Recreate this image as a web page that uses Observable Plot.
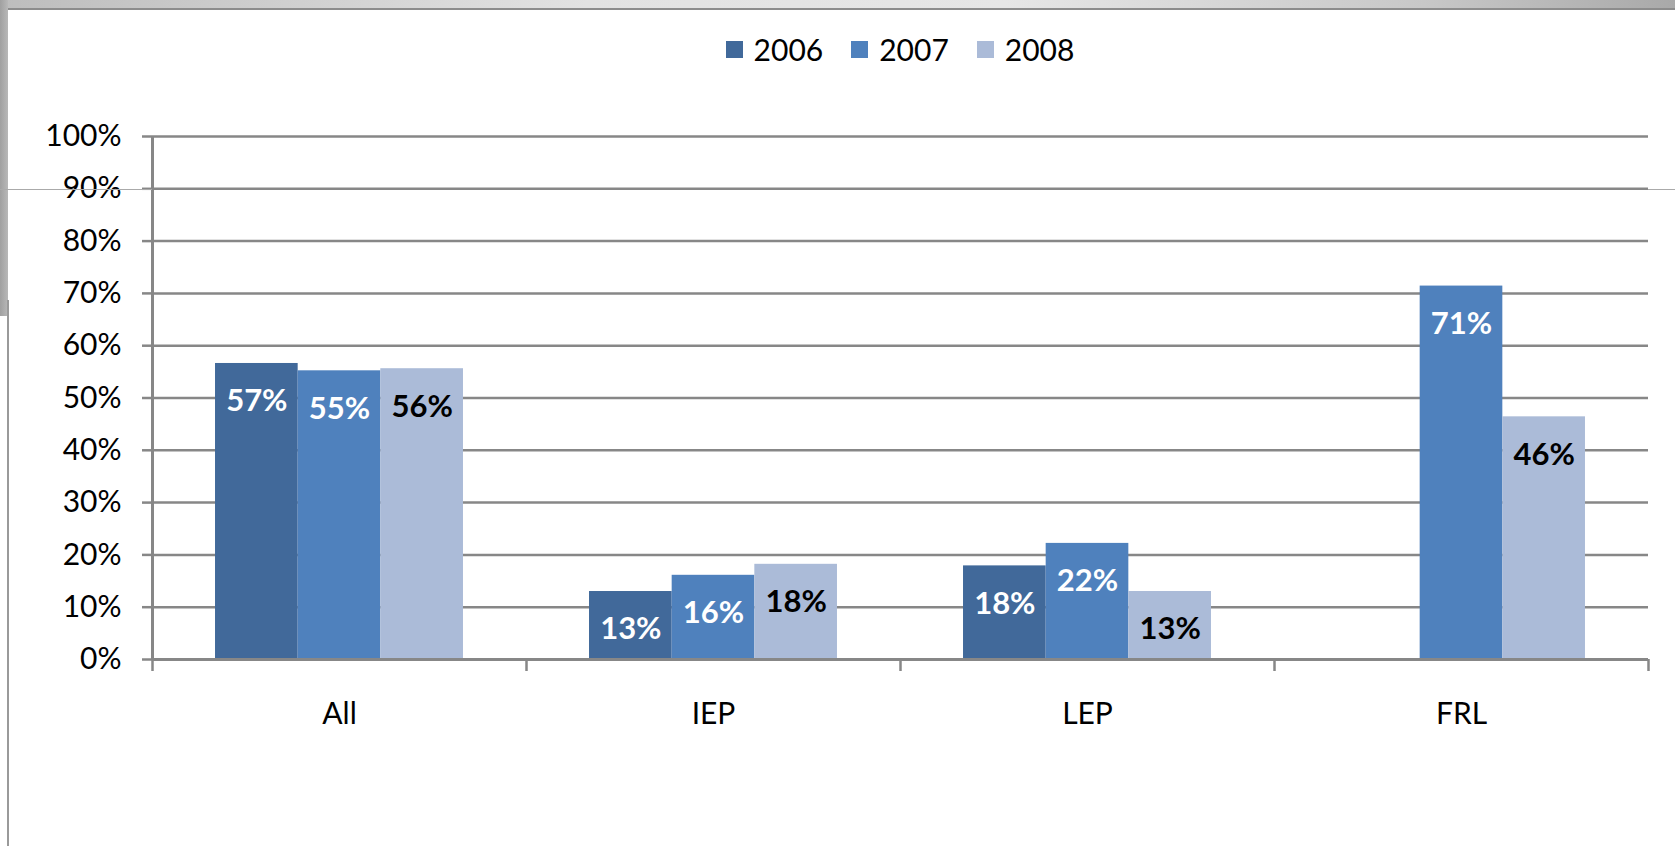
<!DOCTYPE html>
<html>
<head>
<meta charset="utf-8">
<script src="https://cdn.jsdelivr.net/npm/d3@7"></script>
<script src="https://cdn.jsdelivr.net/npm/@observablehq/plot@0.6"></script>
<style>
  html, body { margin: 0; padding: 0; background: #fff; }
  #wrap { position: relative; width: 1675px; height: 846px; overflow: hidden; font-family: Lato, "Open Sans", sans-serif; }
  #chart { position: absolute; left: 0; top: 0; }
  #legend { position: absolute; left: 152px; width: 1496px; top: 30px; height: 38px; display: flex; justify-content: center; align-items: center; font-size: 30px; color: #000; }
  .item { display: flex; align-items: center; margin: 0 14px; }
  .sw { width: 17px; height: 17px; margin-right: 11px; }
  .topbar { position: absolute; left: 0; top: 0; width: 1675px; height: 8px;
    background: linear-gradient(to right, #bdbdbd 0%, #e2e2e2 35%, #e6e6e6 60%, #c8c8c8 85%, #a9a9a9 100%);
    border-bottom: 2px solid #8c8c8c; }
  .leftbar { position: absolute; left: 0; top: 0; width: 8px; height: 316px; background: linear-gradient(to right, #a0a0a0, #b8b8b8); }
  .leftline { position: absolute; left: 7px; top: 300px; width: 2px; height: 546px; background: #9a9a9a; }
  .hline { position: absolute; height: 1px; background: #aaaaaa; }
</style>
</head>
<body>
<div id="wrap">
  <div id="chart"></div>
  <div id="legend"></div>
  <div class="topbar"></div>
  <div class="leftbar"></div>
  <div class="leftline"></div>
  <div class="hline" style="left:0; width:152px; top:189px;"></div>
  <div class="hline" style="left:1648px; width:27px; top:189px;"></div>
</div>
<script>
// ---- data ----
const categories = ["All", "IEP", "LEP", "FRL"];
const years = ["2006", "2007", "2008"];
const values2006 = [56.6, 13.0, 17.9, null];
const values2007 = [55.2, 16.1, 22.2, 71.4];
const values2008 = [55.6, 18.2, 13.0, 46.4];
const yTicks = [0, 10, 20, 30, 40, 50, 60, 70, 80, 90, 100];
const yearColors = ["#41699a", "#4f81bd", "#abbbd8"];
const labelColors = ["#ffffff", "#ffffff", "#000000"];

// ---- build table ----
const series = [values2006, values2007, values2008];
const rows = [];
series.forEach((vals, yi) => {
  vals.forEach((v, ci) => {
    if (v != null) rows.push({cat: categories[ci], ci, year: years[yi], yi, value: v});
  });
});

const W = 0.221; // bar width as fraction of a category band
const left = d => d.ci + 0.5 + (d.yi - 1.5) * W;
const right = d => left(d) + W;
const mid = d => left(d) + W / 2;
const gray = "#878787";
const FONT = 30;
const LABEL_FONT = 31;

const plot = Plot.plot({
  width: 1675,
  height: 846,
  marginLeft: 152,
  marginRight: 27,
  marginTop: 136,
  marginBottom: 187,
  style: {fontFamily: "Lato, 'Open Sans', sans-serif", fontSize: FONT + "px", background: "transparent", color: "#000"},
  x: {type: "linear", domain: [0, categories.length]},
  y: {domain: [0, 100]},
  color: {domain: years, range: yearColors},
  marks: [
    Plot.gridY(yTicks, {stroke: gray, strokeOpacity: 1, strokeWidth: 2.5}),
    Plot.rectY(rows, {x1: left, x2: right, y1: 0, y2: "value", fill: "year"}),
    Plot.text(rows.filter(d => d.yi < 2), {x: mid, y: "value", text: d => Math.round(d.value) + "%", dy: 38, fill: labelColors[0], fontWeight: "bold", fontSize: LABEL_FONT}),
    Plot.text(rows.filter(d => d.yi === 2), {x: mid, y: "value", text: d => Math.round(d.value) + "%", dy: 38, fill: labelColors[2], fontWeight: "bold", fontSize: LABEL_FONT}),
    Plot.ruleY([0], {stroke: gray, strokeWidth: 3}),
    Plot.ruleX([0], {stroke: gray, strokeWidth: 3}),
    Plot.axisX(d3.range(categories.length + 1), {tickSize: 12, tickFormat: () => "", stroke: gray, strokeWidth: 2.5, label: null}),
    Plot.axisX(categories.map((c, i) => i + 0.5), {tickSize: 0, tickPadding: 43, tickFormat: d => categories[Math.floor(d)], fill: "#000", fontSize: FONT, label: null}),
    Plot.axisY(yTicks, {tickSize: 10, tickPadding: 21, tickFormat: d => d + "%", stroke: gray, strokeWidth: 2.5, fill: "#000", fontSize: FONT, label: null})
  ]
});
document.getElementById("chart").appendChild(plot);

// ---- legend ----
const legend = document.getElementById("legend");
years.forEach((y, i) => {
  const item = document.createElement("div");
  item.className = "item";
  const sw = document.createElement("div");
  sw.className = "sw";
  sw.style.background = yearColors[i];
  const t = document.createElement("span");
  t.textContent = y;
  item.appendChild(sw);
  item.appendChild(t);
  legend.appendChild(item);
});
</script>
</body>
</html>
